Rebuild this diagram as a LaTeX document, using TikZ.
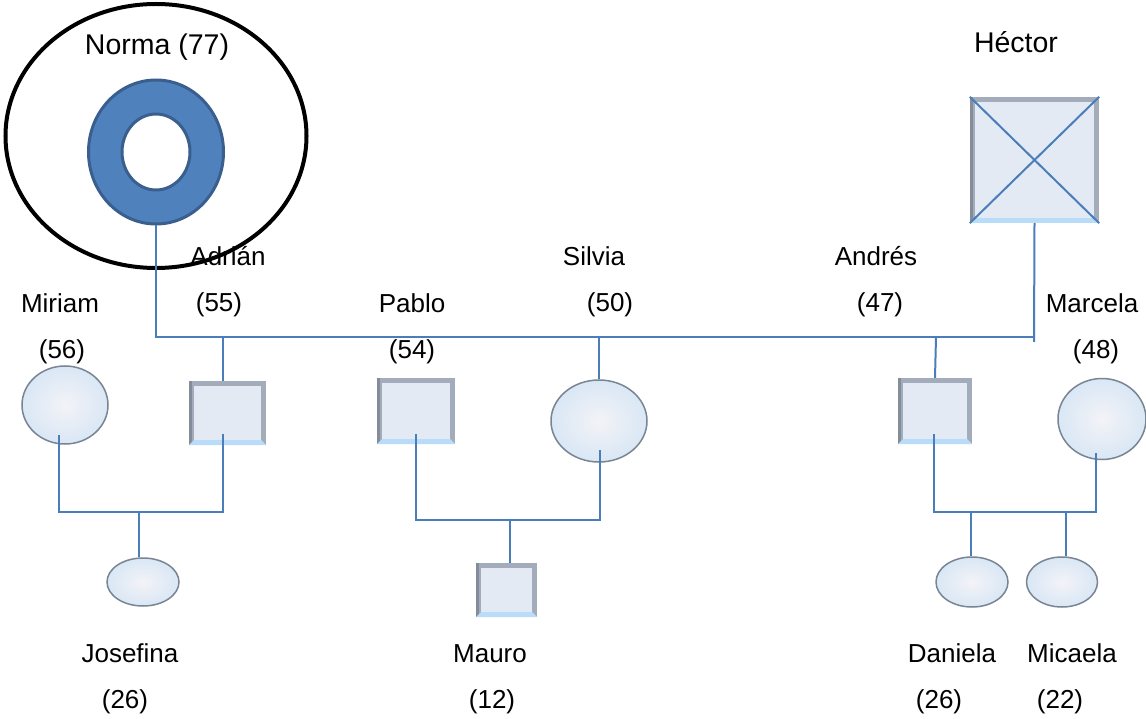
\documentclass[tikz,border=0pt]{standalone}
\usepackage{fontspec}
\setmainfont{Liberation Sans}
\usetikzlibrary{shapes.geometric,calc}
\definecolor{conn}{HTML}{4A7EBB}
\definecolor{donut}{HTML}{4F81BD}
\definecolor{donutedge}{HTML}{3A5F8F}
\definecolor{boxfill}{HTML}{E4EAF4}
\definecolor{bevgray}{HTML}{A3ACBA}
\definecolor{bevdark}{HTML}{848C9A}
\definecolor{bevblue}{HTML}{B9DDF8}
\definecolor{ellin}{HTML}{F3F3F7}
\definecolor{ellout}{HTML}{D9E7F5}
\definecolor{elledge}{HTML}{7A8594}
\begin{document}
\begin{tikzpicture}[x=1pt,y=-1pt,
  connector/.style={draw=conn, line width=2pt},
  lbl/.style={font=\fontsize{26}{30}\selectfont, anchor=base, inner sep=0pt},
  biglbl/.style={font=\fontsize{28.5}{33}\selectfont, anchor=base, inner sep=0pt},
  malebox/.style={rectangle, inner sep=0pt, path picture={
    \fill[bevgray] (path picture bounding box.south west) rectangle (path picture bounding box.north east);
    \fill[bevdark] (path picture bounding box.south west) rectangle ([xshift=2.5pt]path picture bounding box.north west);
    \fill[bevblue] (path picture bounding box.south west) -- (path picture bounding box.south east) -- ([shift={(-5pt,5pt)}]path picture bounding box.south east) -- ([shift={(5pt,5pt)}]path picture bounding box.south west) -- cycle;
    \fill[boxfill] ([shift={(5pt,5pt)}]path picture bounding box.south west) rectangle ([shift={(-5pt,-5pt)}]path picture bounding box.north east);
  }},
  femell/.style={ellipse, inner sep=0pt, draw=elledge, line width=1.5pt, inner color=ellin, outer color=ellout}]
\fill[white] (0,0) rectangle (1146,719);
\useasboundingbox (0,0) rectangle (1146,719);

% Norma
\node[ellipse, draw=black, line width=4pt, minimum width=301pt, minimum height=264pt, inner sep=0pt] (normaring) at (156,136) {};
\node[ellipse, fill=donut, draw=donutedge, line width=3pt, minimum width=135pt, minimum height=144pt, inner sep=0pt] (norma) at (156,152) {};
\node[ellipse, fill=white, draw=donutedge, line width=3pt, minimum width=68pt, minimum height=76pt, inner sep=0pt] (normahole) at (156,152) {};

% Hector
\node[malebox, minimum width=129pt, minimum height=126pt] (hector) at (1034.5,160) {};
\draw[connector] (hector.north west) -- (hector.south east);
\draw[connector] (hector.north east) -- (hector.south west);

% second generation
\node[femell, minimum width=86pt, minimum height=78pt] (miriam) at (65,405) {};
\node[malebox, minimum width=77pt, minimum height=64pt] (adrian) at (227.5,413) {};
\node[malebox, minimum width=78pt, minimum height=66pt] (pablo) at (416,411) {};
\node[femell, minimum width=96pt, minimum height=82pt] (silvia) at (599,421) {};
\node[malebox, minimum width=74pt, minimum height=66pt] (andres) at (935,411) {};
\node[femell, minimum width=88pt, minimum height=81pt] (marcela) at (1102,419) {};

% third generation
\node[femell, minimum width=72pt, minimum height=48pt] (josefina) at (143,582) {};
\node[malebox, minimum width=61pt, minimum height=54pt] (mauro) at (506.5,590) {};
\node[femell, minimum width=72pt, minimum height=50pt] (daniela) at (972,582) {};
\node[femell, minimum width=71pt, minimum height=50pt] (micaela) at (1062,582) {};

% main sibship line
\coordinate (mainrow) at (0,337);
\coordinate (mainR) at (1034,337);
\coordinate (htail) at (1034,342);
\coordinate (andtop) at (936,337);
\draw[connector] (norma.south) |- (mainR);
\draw[connector] (hector.south) -- (htail);
\draw[connector] ([xshift=-4.5pt]adrian.north) -- ([xshift=-4.5pt]adrian.north |- mainrow);
\draw[connector] (silvia.north) -- (silvia.north |- mainrow);
\draw[connector] (andres.north) -- (andtop);

% couples
\coordinate (cpl1) at (139,512);
\coordinate (cpl2) at (510,520);
\coordinate (cpl3) at (971,512);
\coordinate (cpl3b) at (1066,512);
\draw[connector] ([shift={(-6pt,10pt)}]miriam.south) |- (cpl1) -| ([shift={(-4.5pt,11pt)}]adrian.south);
\draw[connector] (cpl1) -- (cpl1 |- josefina.north);
\draw[connector] ([shift={(0pt,10pt)}]pablo.south) |- (cpl2) -| ([shift={(1pt,13pt)}]silvia.south);
\draw[connector] (cpl2) -- (cpl2 |- mauro.north);
\draw[connector] ([shift={(-1pt,10pt)}]andres.south) |- (cpl3) -- (cpl3b) -| ([shift={(-6pt,7pt)}]marcela.south);
\draw[connector] (cpl3) -- (cpl3 |- daniela.north);
\draw[connector] (cpl3b) -- (cpl3b |- micaela.north);

% labels
\node[biglbl] (tnorma) at (157,55) {Norma (77)};
\node[biglbl] (thector) at (1016,53) {Héctor};
\node[lbl] (tadrian) at (228,266) {Adrián};
\node[lbl] (tadrianage) at (219,312) {(55)};
\node[lbl] (tmiriam) at (60,313) {Miriam};
\node[lbl] (tmiriamage) at (62,359) {(56)};
\node[lbl] (tpablo) at (412,313) {Pablo};
\node[lbl] (tpabloage) at (412,359) {(54)};
\node[lbl] (tsilvia) at (594,266) {Silvia};
\node[lbl] (tsilviaage) at (610,312) {(50)};
\node[lbl] (tandres) at (876,266) {Andrés};
\node[lbl] (tandresage) at (880,312) {(47)};
\node[lbl] (tmarcela) at (1092,313) {Marcela};
\node[lbl] (tmarcelaage) at (1096,359) {(48)};
\node[lbl] (tjosefina) at (130,662) {Josefina};
\node[lbl] (tjosefinaage) at (125,708) {(26)};
\node[lbl] (tmauro) at (490,662) {Mauro};
\node[lbl] (tmauroage) at (492,708) {(12)};
\node[lbl] (tdaniela) at (952,662) {Daniela};
\node[lbl] (tdanielaage) at (939,708) {(26)};
\node[lbl] (tmicaela) at (1072,662) {Micaela};
\node[lbl] (tmicaelaage) at (1060,708) {(22)};
\end{tikzpicture}
\end{document}
